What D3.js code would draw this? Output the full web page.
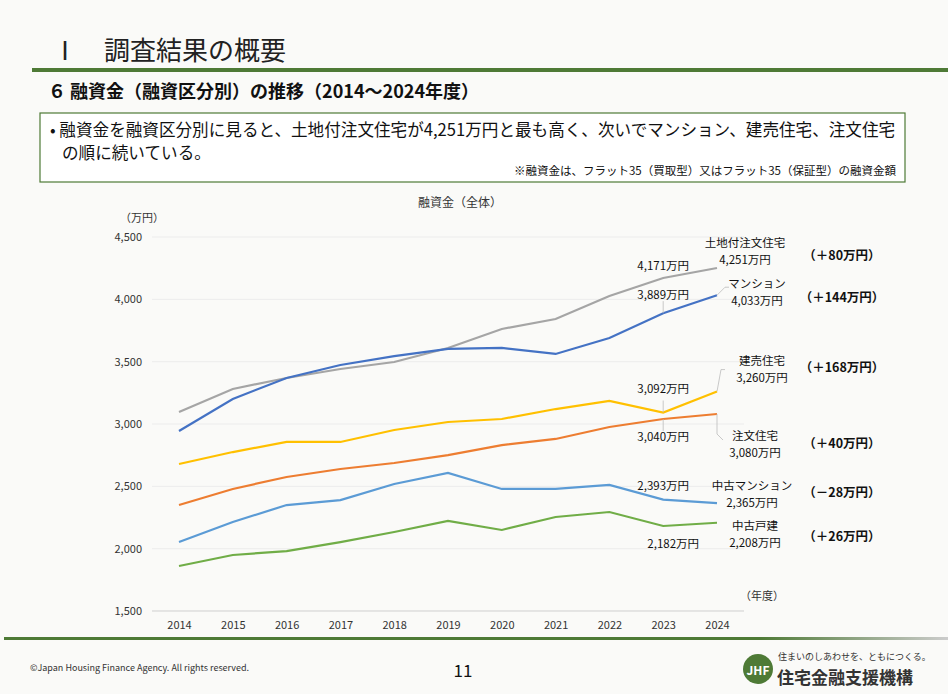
<!DOCTYPE html>
<html><head><meta charset="utf-8">
<script src="https://cdn.jsdelivr.net/npm/d3@7"></script>
<style>body{margin:0;background:#fafaf8;font-family:"Noto Sans CJK JP",sans-serif}</style>
</head><body><svg id="c" width="948" height="694"></svg>
<script>
const years = [2014,2015,2016,2017,2018,2019,2020,2021,2022,2023,2024];
const yTicks = [1500,2000,2500,3000,3500,4000,4500];
const seriesNames = ["土地付注文住宅","マンション","建売住宅","注文住宅","中古マンション","中古戸建"];
const seriesColors = ["#a5a5a5","#4472c4","#ffc000","#ed7d31","#5b9bd5","#70ad47"];
const landHouse = [3096,3281,3369,3441,3497,3610,3762,3842,4027,4171,4251];
const mansion = [2944,3201,3369,3473,3545,3602,3610,3562,3690,3889,4033];
const readyBuilt = [2679,2775,2856,2856,2952,3016,3040,3120,3185,3092,3260];
const customHouse = [2350,2479,2575,2639,2687,2751,2831,2880,2976,3040,3080];
const usedMansion = [2053,2214,2350,2390,2519,2607,2479,2479,2511,2393,2365];
const usedHouse = [1861,1949,1981,2053,2134,2222,2150,2254,2294,2182,2208];
const allSeries = [landHouse,mansion,readyBuilt,customHouse,usedMansion,usedHouse];
const diffs = ["（＋80万円）","（＋144万円）","（＋168万円）","（＋40万円）","（－28万円）","（＋26万円）"];

const svg = d3.select("#c");
const green = "#4e7a36";
const f = d3.format(",");

// header
svg.append("text").attr("x",52).attr("y",60).attr("font-size",26).attr("fill","#222").text("Ⅰ　調査結果の概要");
svg.append("rect").attr("x",32).attr("y",68).attr("width",916).attr("height",4).attr("fill",green);
svg.append("text").attr("x",48).attr("y",98).attr("font-size",18).attr("font-weight","bold").attr("fill","#111")
  .text("６ 融資金（融資区分別）の推移（2014～2024年度）");
svg.append("rect").attr("x",40).attr("y",113).attr("width",865).attr("height",69).attr("fill","#fff").attr("stroke",green).attr("stroke-width",1.2);
svg.append("text").attr("x",50).attr("y",136).attr("font-size",16.6).attr("fill","#111")
  .text("• 融資金を融資区分別に見ると、土地付注文住宅が4,251万円と最も高く、次いでマンション、建売住宅、注文住宅");
svg.append("text").attr("x",62).attr("y",159).attr("font-size",16.6).attr("fill","#111").text("の順に続いている。");
svg.append("text").attr("x",896).attr("y",175).attr("font-size",11.5).attr("text-anchor","end").attr("fill","#111")
  .text("※融資金は、フラット35（買取型）又はフラット35（保証型）の融資金額");

// chart
const x = d3.scalePoint().domain(years).range([179,717]);
const y = d3.scaleLinear().domain([1500,4500]).range([611,237]);
const g = svg.append("g");
g.selectAll(".grid").data(yTicks).join("line")
  .attr("x1",152).attr("x2",744).attr("y1",d=>y(d)).attr("y2",d=>y(d))
  .attr("stroke",d=>d===1500?"#cfcfcf":"#ececec");
g.append("g").attr("transform","translate(150,0)")
  .call(d3.axisLeft(y).tickValues(yTicks).tickFormat(f).tickSize(0).tickPadding(8))
  .call(s=>s.select(".domain").remove())
  .call(s=>s.selectAll("text").attr("font-size",11).attr("fill","#333").attr("font-family","'Noto Sans CJK JP',sans-serif"));
g.append("g").attr("transform","translate(0,611)")
  .call(d3.axisBottom(x).tickSize(0).tickPadding(10))
  .call(s=>s.select(".domain").remove())
  .call(s=>s.selectAll("text").attr("font-size",11).attr("fill","#333").attr("font-family","'Noto Sans CJK JP',sans-serif"));
svg.append("text").attr("x",460).attr("y",207).attr("text-anchor","middle").attr("font-size",12).attr("fill","#333").text("融資金（全体）");
svg.append("text").attr("x",120).attr("y",222).attr("font-size",11).attr("fill","#333").text("（万円）");
svg.append("text").attr("x",740).attr("y",600).attr("font-size",11).attr("fill","#333").text("（年度）");

const line = d3.line().x((d,i)=>x(years[i])).y(d=>y(d));
g.selectAll(".ser").data(allSeries).join("path")
  .attr("d",line).attr("fill","none").attr("stroke",(d,i)=>seriesColors[i]).attr("stroke-width",2.2);

// leader lines
const lead = (pts)=>svg.append("path").attr("d",d3.line()(pts)).attr("fill","none").attr("stroke","#bbb").attr("stroke-width",0.8);
const x23 = x(2023), x24 = x(2024);
lead([[x23,y(mansion[9])],[x23,y(mansion[9])-12]]);
lead([[x24,y(mansion[10])],[x24+8,y(mansion[10])-8],[x24+12,y(mansion[10])-8]]);
lead([[x23,y(readyBuilt[9])],[x23,y(readyBuilt[9])-12]]);
lead([[x24,y(readyBuilt[10])],[x24+4,y(readyBuilt[10])-22],[x24+8,y(readyBuilt[10])-22]]);
lead([[x23,y(customHouse[9])],[x23,y(customHouse[9])+12]]);
lead([[x24,y(customHouse[10])],[x24,y(customHouse[10])+20],[x24+6,y(customHouse[10])+26]]);

const t = (xx,yy,s,opt={})=>svg.append("text").attr("x",xx).attr("y",yy).attr("font-size",opt.size||11.5)
  .attr("text-anchor",opt.anchor||"middle").attr("font-weight",opt.bold?"bold":"normal").attr("fill","#111").text(s);
const m = v=>f(v)+"万円";
// 2024 labels
t(745,247,seriesNames[0]); t(745,264,m(landHouse[10]));
t(757,288,seriesNames[1]); t(757,305,m(mansion[10]));
t(762,365,seriesNames[2]); t(762,382,m(readyBuilt[10]));
t(755,440,seriesNames[3]); t(755,457,m(customHouse[10]));
t(752,490,seriesNames[4]); t(752,507,m(usedMansion[10]));
t(755,530,seriesNames[5]); t(755,547,m(usedHouse[10]));
// 2023 labels
t(x23,270,m(landHouse[9])); t(x23,299,m(mansion[9]));
t(x23,393,m(readyBuilt[9])); t(x23,441,m(customHouse[9]));
t(x23,490,m(usedMansion[9])); t(x23+10,548,m(usedHouse[9]));
// diffs
const dy = [260,302,372,448,497,541];
diffs.forEach((d,i)=>t(842,dy[i],d,{bold:true,size:12.5}));

// footer
const grad = svg.append("defs").append("linearGradient").attr("id","fg");
grad.append("stop").attr("offset","0").attr("stop-color",green);
grad.append("stop").attr("offset","0.8").attr("stop-color",green);
grad.append("stop").attr("offset","1").attr("stop-color","#ccc");
svg.append("rect").attr("x",4).attr("y",637).attr("width",944).attr("height",3).attr("fill","url(#fg)");
svg.append("text").attr("x",30).attr("y",671).attr("font-size",9).attr("fill","#333").text("©Japan Housing Finance Agency. All rights reserved.");
svg.append("text").attr("x",463).attr("y",677).attr("font-size",17).attr("text-anchor","middle").attr("fill","#111").text("11");
svg.append("circle").attr("cx",758).attr("cy",669).attr("r",15).attr("fill",green);
svg.append("text").attr("x",758).attr("y",675).attr("font-size",12).attr("text-anchor","middle").attr("fill","#fff").attr("font-weight","bold").text("JHF");
svg.append("text").attr("x",778).attr("y",660).attr("font-size",9).attr("fill","#333").text("住まいのしあわせを、ともにつくる。");
svg.append("text").attr("x",777).attr("y",684).attr("font-size",17).attr("font-weight","bold").attr("fill","#333").text("住宅金融支援機構");
</script></body></html>
